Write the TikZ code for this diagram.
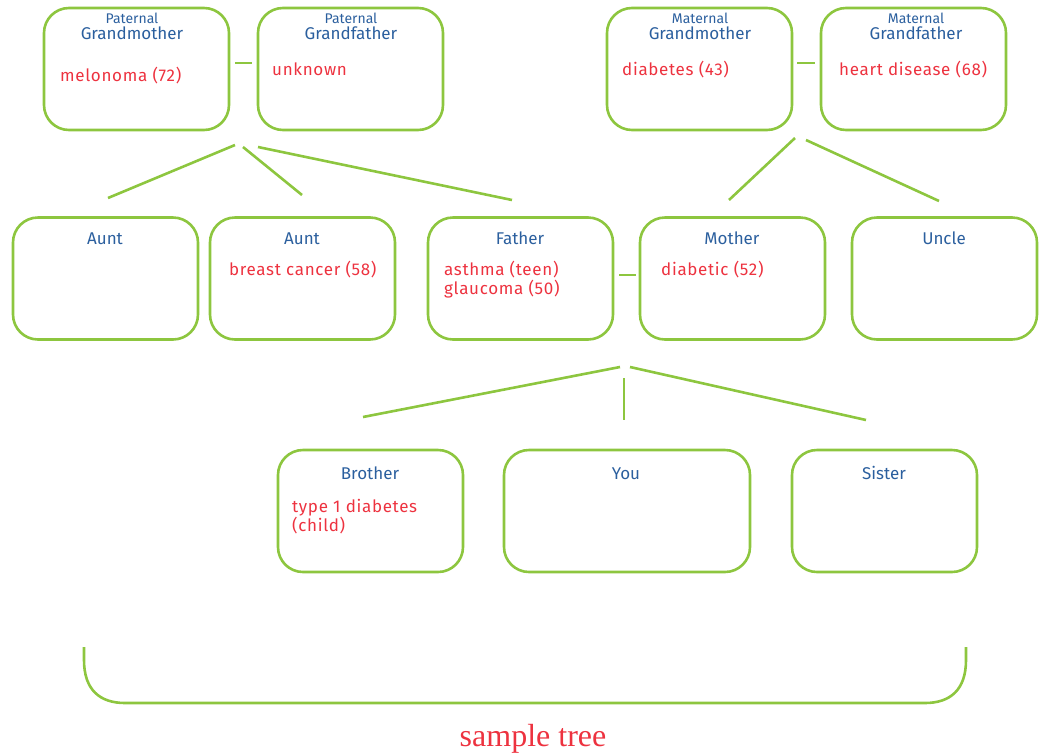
\documentclass[tikz,border=0pt]{standalone}
\usepackage{fontspec}
\setmainfont{Fira Sans}
\newfontfamily\illfont[LetterSpace=4]{Fira Sans}
\newfontfamily\capfont{Liberation Serif}
\definecolor{lgreen}{RGB}{141,198,63}
\definecolor{tblue}{RGB}{43,95,158}
\definecolor{tred}{RGB}{237,50,63}
\begin{document}
\begin{tikzpicture}[x=1pt,y=-1pt,
  box/.style={draw=lgreen,line width=2.6pt,rounded corners=25pt,minimum width=185pt,minimum height=122pt,inner sep=0pt},
  link/.style={draw=lgreen,line width=2.6pt},
  ttl/.style={text=tblue,font=\fontsize{17}{19}\selectfont,anchor=base,inner sep=0pt},
  sub/.style={text=tblue,font=\fontsize{14}{16}\selectfont,anchor=base,inner sep=0pt},
  ill/.style={text=tred,font=\illfont\fontsize{17}{19}\selectfont,anchor=base west,inner sep=0pt}]
\useasboundingbox (0,0) rectangle (1043,753);
% boxes
\node[box] (pgm) at (136.5,69) {};
\node[box] (pgf) at (350.5,69) {};
\node[box] (mgm) at (699.5,69) {};
\node[box] (mgf) at (913.5,69) {};
\node[box] (aunt1) at (105.5,278.5) {};
\node[box] (aunt2) at (302.5,278.5) {};
\node[box] (father) at (520.5,278.5) {};
\node[box] (mother) at (732.5,278.5) {};
\node[box] (uncle) at (944.5,278.5) {};
\node[box] (brother) at (370.5,511) {};
\node[box,minimum width=246pt] (you) at (627,511) {};
\node[box] (sister) at (884.5,511) {};
% titles
\node[sub] (t1) at (132,23) {Paternal};
\node[ttl] (t2) at (132,39.5) {Grandmother};
\node[sub] (t3) at (351,23) {Paternal};
\node[ttl] (t4) at (351,39.5) {Grandfather};
\node[sub] (t5) at (700,23) {Maternal};
\node[ttl] (t6) at (700,39.5) {Grandmother};
\node[sub] (t7) at (916,23) {Maternal};
\node[ttl] (t8) at (916,39.5) {Grandfather};
\node[ttl] (t9) at (105,244) {Aunt};
\node[ttl] (t10) at (302,244) {Aunt};
\node[ttl] (t11) at (520,244) {Father};
\node[ttl] (t12) at (732,244) {Mother};
\node[ttl] (t13) at (944,244) {Uncle};
\node[ttl] (t14) at (370,479) {Brother};
\node[ttl] (t15) at (626,479) {You};
\node[ttl] (t16) at (884,479) {Sister};
% illnesses
\node[ill] (i1) at (60,81) {melonoma (72)};
\node[ill] (i2) at (272,75) {unknown};
\node[ill] (i3) at (622,75) {diabetes (43)};
\node[ill] (i4) at (839,75) {heart disease (68)};
\node[ill] (i5) at (229,275) {breast cancer (58)};
\node[ill] (i6) at (444,275) {asthma (teen)};
\node[ill] (i7) at (444,294) {glaucoma (50)};
\node[ill] (i8) at (661,275) {diabetic (52)};
\node[ill] (i9) at (292,512) {type 1 diabetes};
\node[ill] (i10) at (292,531) {(child)};
% connector coordinates
\coordinate (pa) at (235,63); \coordinate (pb) at (252,63);
\coordinate (ma) at (797,63); \coordinate (mb) at (815,63);
\coordinate (fa) at (619,275); \coordinate (fb) at (636,275);
\coordinate (p1) at (235,145); \coordinate (q1) at (108,198);
\coordinate (p2) at (243,147); \coordinate (q2) at (302,195);
\coordinate (p3) at (258,147); \coordinate (q3) at (512,200);
\coordinate (m1) at (795,138); \coordinate (n1) at (729,200);
\coordinate (m2) at (806,140); \coordinate (n2) at (939,201);
\coordinate (c1) at (620,367); \coordinate (d1) at (363,417);
\coordinate (c2) at (624,378); \coordinate (d2) at (624,420);
\coordinate (c3) at (630,367); \coordinate (d3) at (866,420);
\draw[link] (pa) -- (pb);
\draw[link] (ma) -- (mb);
\draw[link] (fa) -- (fb);
\draw[link] (p1) -- (q1);
\draw[link] (p2) -- (q2);
\draw[link] (p3) -- (q3);
\draw[link] (m1) -- (n1);
\draw[link] (m2) -- (n2);
\draw[link] (c1) -- (d1);
\draw[link] (c2) -- (d2);
\draw[link] (c3) -- (d3);
% bracket
\coordinate (bl) at (84,647); \coordinate (br) at (966,647);
\draw[link] (bl) -- (84,660) .. controls (84,690) and (100,703) .. (125,703) -- (925,703) .. controls (950,703) and (966,690) .. (966,660) -- (br);
\node[text=tred,font=\capfont\fontsize{32}{35}\selectfont,anchor=base,inner sep=0pt] (cap) at (533,746) {sample tree};
\end{tikzpicture}
\end{document}
